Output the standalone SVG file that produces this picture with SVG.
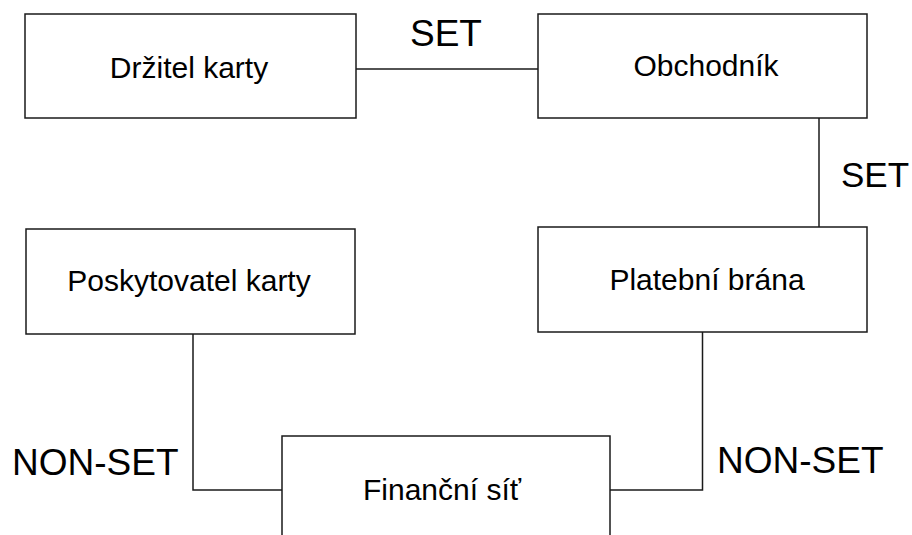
<svg xmlns="http://www.w3.org/2000/svg" width="912" height="535" viewBox="0 0 912 535">
<style>
.box{fill:#fff;stroke:#1a1a1a;stroke-width:1.5}
.lbl{font-family:"Liberation Sans",Arial,sans-serif;font-size:30px;fill:#000;text-anchor:middle}
.edge{font-family:"Liberation Sans",Arial,sans-serif;font-size:37px;fill:#000}
.conn{fill:none;stroke:#1a1a1a;stroke-width:1.5}
</style>
<rect width="912" height="535" fill="#fff"/>
<g id="connectors">
<line class="conn" x1="356" y1="69" x2="538" y2="69"/>
<line class="conn" x1="819" y1="118" x2="819" y2="227"/>
<polyline class="conn" points="193,334 193,490 282,490"/>
<polyline class="conn" points="702.5,332 702.5,490 610,490"/>
<text class="edge" x="410" y="46">SET</text>
<text class="edge" x="841" y="187" style="font-size:35px">SET</text>
<text class="edge" x="12" y="475">NON-SET</text>
<text class="edge" x="717" y="473">NON-SET</text>
</g>
<g id="drzitel">
<rect class="box" x="25" y="14" width="331" height="104"/>
<text class="lbl" x="189" y="78">Držitel karty</text>
</g>
<g id="obchodnik">
<rect class="box" x="538" y="14" width="329" height="104"/>
<text class="lbl" x="706" y="76">Obchodník</text>
</g>
<g id="platebni">
<rect class="box" x="538" y="227" width="329" height="105"/>
<text class="lbl" x="707" y="290">Platební brána</text>
</g>
<g id="poskytovatel">
<rect class="box" x="26" y="229" width="329" height="105"/>
<text class="lbl" x="189" y="291">Poskytovatel karty</text>
</g>
<g id="financni">
<rect class="box" x="282" y="436" width="328" height="110"/>
<text class="lbl" x="442" y="500">Finanční síť</text>
</g>
</svg>
